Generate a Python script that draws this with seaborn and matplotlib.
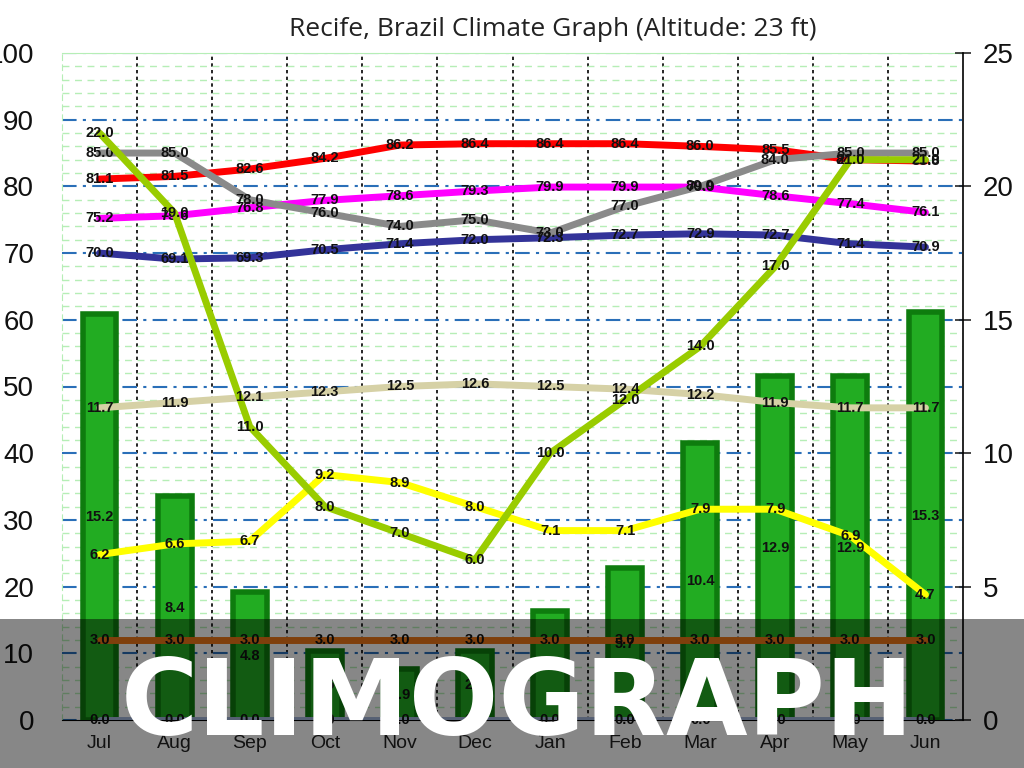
import numpy as np
import matplotlib
matplotlib.use("Agg")
import matplotlib.pyplot as plt
import seaborn as sns
from matplotlib.patches import Rectangle
from matplotlib.ticker import MultipleLocator

months = ["Jul", "Aug", "Sep", "Oct", "Nov", "Dec", "Jan", "Feb", "Mar", "Apr", "May", "Jun"]

# left axis (0-100)
high_temp = [81.1, 81.5, 82.6, 84.2, 86.2, 86.4, 86.4, 86.4, 86.0, 85.5, 84.0, 83.8]
mean_temp = [75.2, 75.6, 76.8, 77.9, 78.6, 79.3, 79.9, 79.9, 79.9, 78.6, 77.4, 76.1]
low_temp = [70.0, 69.1, 69.3, 70.5, 71.4, 72.0, 72.3, 72.7, 72.9, 72.7, 71.4, 70.9]
humidity = [85.0, 85.0, 78.0, 76.0, 74.0, 75.0, 73.0, 77.0, 80.0, 84.0, 85.0, 85.0]

# right axis (0-25)
precip = [15.2, 8.4, 4.8, 2.6, 1.9, 2.6, 4.1, 5.7, 10.4, 12.9, 12.9, 15.3]
rain_days = [22.0, 19.0, 11.0, 8.0, 7.0, 6.0, 10.0, 12.0, 14.0, 17.0, 21.0, 21.0]
sunshine = [6.2, 6.6, 6.7, 9.2, 8.9, 8.0, 7.1, 7.1, 7.9, 7.9, 6.9, 4.7]
daylight = [11.7, 11.9, 12.1, 12.3, 12.5, 12.6, 12.5, 12.4, 12.2, 11.9, 11.7, 11.7]
uv_index = [3.0, 3.0, 3.0, 3.0, 3.0, 3.0, 3.0, 3.0, 3.0, 3.0, 3.0, 3.0]
snow = [0.0, 0.0, 0.0, 0.0, 0.0, 0.0, 0.0, 0.0, 0.0, 0.0, 0.0, 0.0]

sns.set_style("white")
plt.rcParams['font.family'] = ['Liberation Sans', 'DejaVu Sans']

fig = plt.figure(figsize=(10.24, 7.68), dpi=100)
ax = fig.add_axes([62 / 1024, 48 / 768, 901 / 1024, 667 / 768])
ax2 = ax.twinx()

x = np.arange(len(months))
lbl = dict(ha='center', va='center', fontsize=10.5, fontweight='bold', color='#111111', zorder=6)

# precipitation bars (right scale)
sns.barplot(x=x, y=precip, ax=ax2, width=0.45, color='#22ac22',
            edgecolor='#0e7c0e', linewidth=4, saturation=1, zorder=2)

# left-scale lines
left_series = [(high_temp, '#ff0000'), (mean_temp, '#ff00ff'),
               (low_temp, '#333399'), (humidity, '#8a8a8a')]
for vals, col in left_series:
    sns.lineplot(x=x, y=vals, ax=ax, color=col, linewidth=5, solid_capstyle='round')
    for i, v in enumerate(vals):
        ax.text(i, v, f"{v:.1f}", **lbl)

# right-scale lines
right_series = [(snow, '#a4b6dc'), (uv_index, '#f07818'), (daylight, '#d6d1a6'),
                (sunshine, '#ffff00'), (rain_days, '#99cc00')]
for vals, col in right_series:
    sns.lineplot(x=x, y=vals, ax=ax2, color=col, linewidth=5, solid_capstyle='round', zorder=4)
    for i, v in enumerate(vals):
        ax2.text(i, v, f"{v:.1f}", **lbl)

for i, v in enumerate(precip):
    ax2.text(i, v / 2, f"{v:.1f}", **lbl)

ax.set_xlim(-0.5, 11.5)
ax.set_ylim(0, 100)
ax2.set_ylim(0, 25)
ax.set_yticks(range(0, 101, 10))
ax2.set_yticks(range(0, 26, 5))
ax.set_xticks(x)
ax.set_xticklabels(months)
ax.set_xlabel('')
ax.set_ylabel('')
ax2.set_xlabel('')
ax2.set_ylabel('')

# grids
ax.set_axisbelow(True)
ax.yaxis.set_minor_locator(MultipleLocator(2))
ax.yaxis.grid(True, which='minor', color='#b6eeb6', linestyle=(0, (5, 4)), linewidth=1)
ax.yaxis.grid(True, which='major', color='#2a6fb8', linestyle=(0, (7, 3, 1.5, 3)), linewidth=1.5)
ax.set_xticks(np.arange(0.5, 11, 1), minor=True)
ax.xaxis.grid(True, which='minor', color='black', linestyle=(0, (2, 2)), linewidth=1.2)
ax.xaxis.grid(False, which='major')

for s in ['top', 'left']:
    ax.spines[s].set_color('#b6eeb6')
ax.spines['left'].set_linestyle((0, (5, 4)))
ax.spines['right'].set_visible(False)
ax.spines['bottom'].set_color('black')
for s in ['top', 'left', 'bottom']:
    ax2.spines[s].set_visible(False)
ax2.spines['right'].set_color('black')
ax2.spines['right'].set_linewidth(1.2)

ax.tick_params(axis='y', which='both', length=0, labelsize=20, pad=20, labelcolor='#111111')
ax.tick_params(axis='x', which='both', length=0, labelsize=14, pad=11, labelcolor='#222222')
ax2.tick_params(axis='y', direction='inout', length=12, width=1.2, labelsize=20, pad=8,
                labelcolor='#111111')

fig.text(553 / 1024, 1 - 30 / 768, "Recife, Brazil Climate Graph (Altitude: 23 ft)",
         ha='center', va='center', fontsize=19, family=['Open Sans', 'DejaVu Sans'],
         color='#222222')

# banner overlay
fig.add_artist(Rectangle((0, 0), 1, 149 / 768, transform=fig.transFigure,
                         color='black', alpha=0.47, zorder=10, linewidth=0))
fig.text(0.505, 1 - 735 / 768, "CLIMOGRAPH", ha='center', va='baseline', color='white',
         fontsize=76, fontweight='bold', family=['DejaVu Sans'], zorder=11)

fig.savefig("out.png", dpi=100)
